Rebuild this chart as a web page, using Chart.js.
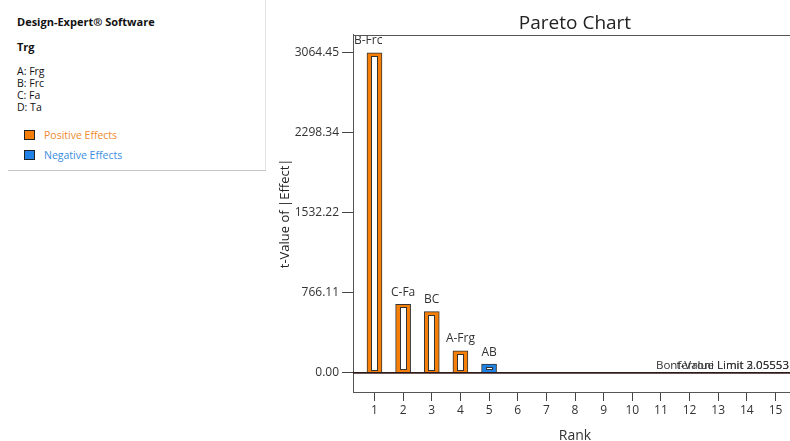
<!DOCTYPE html>
<html><head><meta charset="utf-8">
<script src="https://cdn.jsdelivr.net/npm/chart.js@4"></script>
<style>
html,body{margin:0;padding:0;background:#fff;overflow:hidden;width:790px;height:441px;}
#panel{position:absolute;left:0;top:0;width:265px;height:171px;border-right:1px solid #e4e4e4;font-family:"Open Sans","Noto Sans",sans-serif;color:#111;}
#panel .line{position:absolute;left:8px;top:170px;width:258px;height:1px;background:#c4c4c4;}
.t{position:absolute;left:17px;font-size:10.5px;line-height:14px;white-space:nowrap;}
.b{font-weight:bold;font-size:11px;}
.sw{position:absolute;left:24px;width:9px;height:8px;border:1.5px solid #222;}
#wrap{position:absolute;left:277px;top:0;width:520px;height:444px;}
</style></head>
<body>
<div id="panel">
  <div class="t b" style="top:15px;">Design-Expert® Software</div>
  <div class="t b" style="top:40px;">Trg</div>
  <div class="t" style="top:64px;">A: Frg</div>
  <div class="t" style="top:76px;">B: Frc</div>
  <div class="t" style="top:88px;">C: Fa</div>
  <div class="t" style="top:100px;">D: Ta</div>
  <div class="sw" style="top:129.5px;background:#F57F08;"></div>
  <div class="t" style="left:44px;top:128px;color:#F08A2E;">Positive Effects</div>
  <div class="sw" style="top:149.5px;background:#1E82E6;"></div>
  <div class="t" style="left:44px;top:148px;color:#3A8EE0;">Negative Effects</div>
  <div class="line"></div>
</div>
<div id="wrap"><canvas id="c" width="520" height="444"></canvas></div>
<script>
const ranks = [1,2,3,4,5,6,7,8,9,10,11,12,13,14,15];
const effectLabels = ['B-Frc','C-Fa','BC','A-Frg','AB','','','','','','','','','',''];
const tValues = [3064.45,658,587,211,85,6,5,4,3.5,3,2.5,2,1.5,1,0.5];
const effectSigns = [1,1,1,1,-1,1,-1,1,-1,1,-1,1,-1,1,-1];
const yTickValues = [0,766.11,1532.22,2298.34,3064.45];
const tLimit = 2.05553;
const bonferroniLimit = 3.05553;

const ORANGE = '#F57F08', BLUE = '#1E82E6';
const FONT = '"Open Sans","Noto Sans",sans-serif';

const barData = ranks.map((r,i)=>({x:r,y:tValues[i]}));
const barColors = effectSigns.map(s=> s>0 ? ORANGE : BLUE);

const extras = {
  id:'extras',
  afterDatasetsDraw(chart){
    const ctx = chart.ctx;
    const meta = chart.getDatasetMeta(0);
    const ca = chart.chartArea;
    ctx.save();
    // inner white rectangles of the hollow bars
    meta.data.forEach((el,i)=>{
      const h = el.base - el.y;
      const w = el.width;
      if (h < 6) return;
      const x0 = Math.round(el.x - w/2 + 4), y0 = Math.round(el.y + 3);
      const iw = Math.round(w - 8), ih = Math.round(h - 5);
      ctx.fillStyle = '#fff';
      ctx.fillRect(x0, y0, iw, ih);
      ctx.strokeStyle = '#333';
      ctx.lineWidth = 1;
      ctx.strokeRect(x0+0.5, y0+0.5, iw-1, ih-1);
    });
    // effect labels above the bars
    ctx.font = '12px ' + FONT;
    ctx.fillStyle = '#333';
    ctx.textBaseline = 'middle';
    meta.data.forEach((el,i)=>{
      if (!effectLabels[i]) return;
      if (el.y - 20 < ca.top) {
        ctx.textAlign = 'left';
        ctx.fillText(effectLabels[i], ca.left + 1, el.y - 12);
      } else {
        ctx.textAlign = 'center';
        ctx.fillText(effectLabels[i], el.x, el.y - 12);
      }
    });
    // limit texts (overlapping, as in the original)
    const ys = chart.scales.y;
    ctx.font = '11.5px ' + FONT;
    ctx.textAlign = 'right';
    ctx.textBaseline = 'alphabetic';
    ctx.fillStyle = '#333';
    const rx = ca.right - 8;
    ctx.fillText('Bonferroni Limit ' + bonferroniLimit.toFixed(5), rx, ys.getPixelForValue(bonferroniLimit) - 4);
    ctx.fillText('t-Value Limit ' + tLimit.toFixed(5), rx, ys.getPixelForValue(tLimit) - 4);
    // top frame line
    ctx.strokeStyle = '#555';
    ctx.lineWidth = 1;
    ctx.beginPath();
    ctx.moveTo(ca.left, Math.round(ca.top)+0.5);
    ctx.lineTo(ca.right, Math.round(ca.top)+0.5);
    ctx.stroke();
    ctx.restore();
  }
};

new Chart(document.getElementById('c'), {
  data: {
    datasets: [
      {type:'bar', data: barData, backgroundColor: barColors, borderColor:'#333', borderWidth:1,
       barThickness:15, grouped:false, order:2},
      {type:'line', data:[{x:0.25,y:tLimit},{x:15.75,y:tLimit}], borderColor:'#6e2a2a', borderWidth:1.5, pointRadius:0, order:1},
      {type:'line', data:[{x:0.25,y:bonferroniLimit},{x:15.75,y:bonferroniLimit}], borderColor:'#2a1a1a', borderWidth:1.5, pointRadius:0, order:0}
    ]
  },
  options: {
    responsive:false, animation:false,
    layout:{padding:0},
    plugins:{
      legend:{display:false}, tooltip:{enabled:false},
      title:{display:true, text:'Pareto Chart', fullSize:false, color:'#222',
        font:{family:FONT, size:19, weight:'normal'}, padding:{top:12,bottom:0}}
    },
    scales:{
      x:{type:'linear', min:0.25, max:15.75, offset:false,
        afterBuildTicks(axis){ axis.ticks = ranks.map(v=>({value:v})); },
        afterFit(axis){ axis.height = 52; },
        grid:{drawOnChartArea:false, drawTicks:true, tickLength:9, color:'#444', offset:false},
        border:{display:true, color:'#555', width:1},
        ticks:{color:'#333', padding:2, autoSkip:false, maxRotation:0,
          font:{family:FONT, size:12}},
        title:{display:true, text:'Rank', color:'#333', padding:{top:0,bottom:0},
          font:{family:FONT, size:14}}
      },
      y:{type:'linear', min:-182, max:3237,
        afterBuildTicks(axis){ axis.ticks = yTickValues.map(v=>({value:v})); },
        afterFit(axis){ axis.width = 76; },
        grid:{drawOnChartArea:false, drawTicks:true, tickLength:11, color:'#444'},
        border:{display:true, color:'#555', width:1},
        ticks:{color:'#333', padding:3, callback:(v)=>Number(v).toFixed(2),
          font:{family:FONT, size:12}},
        title:{display:true, text:'t-Value of |Effect|', color:'#222', padding:{top:0,bottom:0},
          font:{family:FONT, size:13}}
      }
    }
  },
  plugins:[extras]
});
</script>
</body></html>
